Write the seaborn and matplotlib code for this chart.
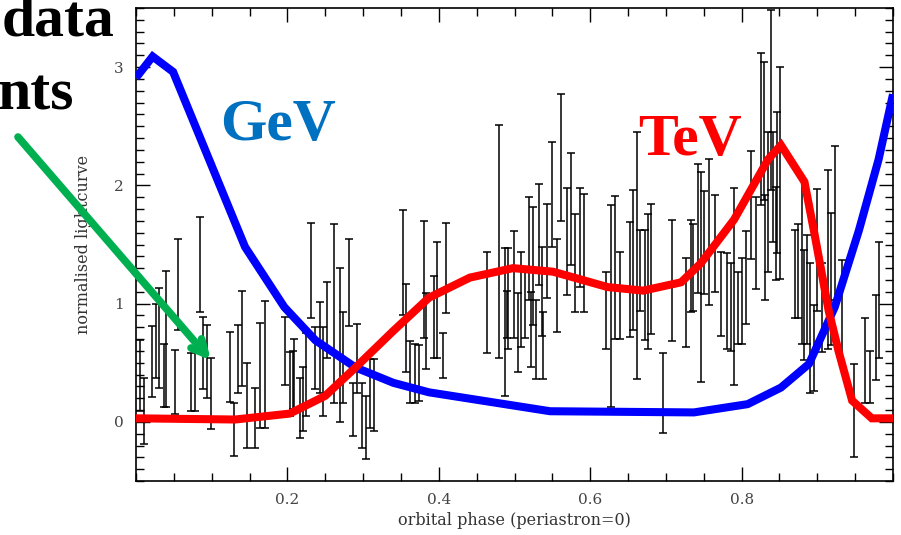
import numpy as np
import pandas as pd
import matplotlib
matplotlib.use("Agg")
import matplotlib.pyplot as plt
from matplotlib.ticker import MultipleLocator, FixedLocator
import seaborn as sns

# ---------------- data ----------------
gev_phase = [0.0, 0.022, 0.049, 0.144, 0.196, 0.237, 0.290, 0.340, 0.387, 0.547,
             0.737, 0.808, 0.852, 0.889, 0.923, 0.955, 0.981, 1.0]
gev_flux = [2.91, 3.09, 2.96, 1.48, 0.97, 0.69, 0.46, 0.33, 0.25, 0.09,
            0.08, 0.15, 0.29, 0.49, 0.97, 1.62, 2.22, 2.77]

tev_phase = [0.0, 0.131, 0.203, 0.250, 0.290, 0.340, 0.387, 0.441, 0.498, 0.551,
             0.623, 0.670, 0.720, 0.746, 0.790, 0.835, 0.852, 0.883, 0.896,
             0.915, 0.928, 0.946, 0.972, 1.0]
tev_flux = [0.03, 0.02, 0.07, 0.22, 0.46, 0.77, 1.05, 1.22, 1.30, 1.27,
            1.14, 1.11, 1.18, 1.34, 1.71, 2.22, 2.34, 2.03, 1.60,
            0.94, 0.60, 0.18, 0.03, 0.03]

# measured points: phase, lower end and upper end of each error bar
pt_phase = [0.005, 0.010, 0.021, 0.027, 0.031, 0.037, 0.039, 0.051, 0.056, 0.072,
            0.078, 0.084, 0.088, 0.094, 0.099, 0.124, 0.130, 0.135, 0.140, 0.147,
            0.157, 0.164, 0.171, 0.197, 0.204, 0.207, 0.209, 0.216, 0.220, 0.224,
            0.231, 0.237, 0.243, 0.247, 0.252, 0.262, 0.269, 0.273, 0.281, 0.286,
            0.292, 0.298, 0.304, 0.309, 0.314, 0.353, 0.357, 0.362, 0.369, 0.374,
            0.381, 0.383, 0.393, 0.398, 0.405, 0.410, 0.464, 0.480, 0.487, 0.490,
            0.492, 0.499, 0.504, 0.508, 0.514, 0.519, 0.522, 0.524, 0.528, 0.532,
            0.536, 0.538, 0.543, 0.550, 0.556, 0.561, 0.569, 0.575, 0.580, 0.587,
            0.592, 0.621, 0.627, 0.633, 0.639, 0.653, 0.657, 0.662, 0.666, 0.672,
            0.677, 0.680, 0.696, 0.708, 0.726, 0.733, 0.736, 0.742, 0.746, 0.750,
            0.757, 0.765, 0.773, 0.781, 0.786, 0.790, 0.795, 0.801, 0.806, 0.812,
            0.819, 0.825, 0.830, 0.831, 0.835, 0.839, 0.841, 0.845, 0.847, 0.851,
            0.870, 0.875, 0.880, 0.882, 0.886, 0.891, 0.896, 0.900, 0.906, 0.914,
            0.918, 0.924, 0.933, 0.948, 0.963, 0.970, 0.977, 0.982]
pt_low = [0.09, -0.19, 0.21, 0.37, 0.29, 0.13, 0.13, 0.07, 0.78, 0.09,
          0.09, 0.93, 0.28, 0.20, -0.06, 0.17, -0.29, 0.24, 0.30, -0.22,
          -0.22, -0.05, -0.05, 0.31, 0.05, 0.11, 0.09, -0.14, -0.08, 0.05,
          0.88, 0.28, 0.24, 0.05, 0.54, 0.16, 0.00, 0.16, 0.81, -0.12,
          0.24, -0.22, -0.31, -0.05, -0.08, 0.90, 0.42, 0.16, 0.16, 0.18,
          0.71, 0.45, 0.54, 0.54, 0.37, 0.92, 0.58, 0.54, 0.22, 0.71,
          0.62, 0.71, 0.42, 0.63, 0.71, 1.03, 0.46, 0.82, 0.36, 1.16,
          0.73, 0.36, 1.05, 1.48, 0.76, 1.70, 1.07, 1.33, 0.93, 1.14,
          0.93, 0.62, 0.13, 0.70, 0.70, 0.72, 0.78, 0.36, 0.94, 0.69,
          0.62, 0.74, -0.09, 0.68, 0.63, 0.93, 0.94, 1.09, 0.34, 1.08,
          0.99, 1.10, 0.73, 0.62, 0.60, 0.31, 0.66, 0.66, 0.83, 1.38,
          1.12, 1.83, 1.88, 1.03, 1.27, 1.96, 1.52, 1.20, 1.43, 1.21,
          0.88, 0.88, 0.66, 0.52, 0.66, 0.24, 0.26, 0.94, 0.59, 0.62,
          0.65, 1.03, 0.49, -0.30, 0.16, 0.16, 0.35, 0.54]
pt_high = [0.69, 0.37, 0.81, 1.00, 1.13, 0.66, 1.28, 0.61, 1.55, 0.58,
           0.68, 1.73, 0.89, 0.82, 0.54, 0.76, 0.16, 0.82, 1.11, 0.50,
           0.29, 0.84, 1.02, 0.89, 0.59, 0.60, 0.70, 0.37, 0.46, 0.75,
           1.68, 0.80, 1.01, 0.80, 1.18, 1.67, 1.30, 0.93, 1.55, 0.33,
           0.83, 0.33, 0.22, 0.53, 0.53, 1.79, 1.17, 0.68, 0.66, 0.65,
           1.70, 1.09, 1.23, 1.52, 0.75, 1.68, 1.44, 2.51, 1.47, 1.11,
           1.47, 1.61, 1.09, 1.44, 1.31, 1.90, 1.10, 1.82, 1.03, 2.01,
           1.48, 0.93, 1.84, 2.37, 1.55, 2.77, 1.98, 2.27, 1.76, 1.98,
           1.93, 1.27, 1.83, 1.91, 1.44, 1.69, 1.96, 2.45, 1.62, 1.62,
           1.76, 1.84, 0.58, 1.71, 1.39, 1.71, 1.67, 2.18, 2.11, 1.95,
           2.22, 1.92, 1.44, 1.43, 1.34, 1.98, 1.27, 1.39, 1.61, 2.29,
           1.90, 3.12, 3.04, 1.92, 2.45, 3.48, 2.45, 1.99, 2.62, 3.00,
           1.62, 1.67, 2.06, 1.45, 1.58, 1.34, 0.99, 1.97, 1.34, 2.13,
           1.77, 2.33, 1.37, 0.49, 0.88, 0.60, 1.07, 1.52]

x_ticks = [0.2, 0.4, 0.6, 0.8]
x_tick_labels = ["0.2", "0.4", "0.6", "0.8"]
y_ticks = [0, 1, 2, 3]
y_tick_labels = ["0", "1", "2", "3"]

# ---------------- figure ----------------
sns.set_style("ticks")
plt.rcParams["font.family"] = ["DejaVu Serif", "DejaVu Sans"]

W, H = 901, 535
fig = plt.figure(figsize=(W / 100, H / 100), dpi=100)
ax = fig.add_axes([136 / W, 1 - 481 / H, (893 - 136) / W, (481 - 8) / H])

pts = pd.DataFrame({"phase": pt_phase, "low": pt_low, "high": pt_high})
pts["mid"] = (pts["low"] + pts["high"]) / 2
pts["err"] = (pts["high"] - pts["low"]) / 2
ax.errorbar(pts["phase"], pts["mid"], yerr=pts["err"], fmt="none",
            ecolor="black", elinewidth=1.1, capsize=2.8, capthick=1.1, zorder=2)

gev = pd.DataFrame({"phase": gev_phase, "flux": gev_flux})
tev = pd.DataFrame({"phase": tev_phase, "flux": tev_flux})
sns.lineplot(data=gev, x="phase", y="flux", sort=False, color="#0000FF",
             linewidth=5.8, ax=ax, zorder=3)
sns.lineplot(data=tev, x="phase", y="flux", sort=False, color="#FF0000",
             linewidth=5.8, ax=ax, zorder=4)
for ln in ax.lines:
    ln.set_solid_joinstyle("miter")
    ln.set_solid_capstyle("butt")
    ln.set_clip_on(True)

ax.set_xlim(0, 1)
ax.set_ylim(-0.5, 3.5)
ax.xaxis.set_major_locator(FixedLocator(x_ticks))
ax.set_xticklabels(x_tick_labels)
ax.xaxis.set_minor_locator(MultipleLocator(0.05))
ax.yaxis.set_major_locator(FixedLocator(y_ticks))
ax.set_yticklabels(y_tick_labels)
ax.yaxis.set_minor_locator(MultipleLocator(0.1))
ax.tick_params(which="both", direction="in", top=True, right=True,
               color="black", width=1.0)
ax.tick_params(which="major", length=10, labelsize=11, labelcolor="#444444", pad=9)
ax.tick_params(which="minor", length=6)
for sp in ax.spines.values():
    sp.set_visible(True)
    sp.set_linewidth(1.2)
    sp.set_color("black")

ax.set_xlabel("orbital phase (periastron=0)", fontsize=11.5, color="#333333", labelpad=3)
ax.set_ylabel("normalised lightcurve", fontsize=11.5, color="#333333", labelpad=16)

# annotations
fig.text(220 / W, 1 - 140 / H, "GeV", color="#0070C0", fontsize=43,
         fontweight="bold", family="Liberation Serif", va="baseline", ha="left")
fig.text(638 / W, 1 - 155 / H, "TeV", color="#FF0000", fontsize=43,
         fontweight="bold", family="Liberation Serif", va="baseline", ha="left")
fig.text(2 / W, 1 - 35 / H, "data", color="black", fontsize=43,
         fontweight="bold", family="Liberation Serif", va="baseline", ha="left")
fig.text(-3 / W, 1 - 110 / H, "nts", color="black", fontsize=43,
         fontweight="bold", family="Liberation Serif", va="baseline", ha="left")

ax.annotate("", xy=(0.099, 0.52), xycoords="data",
            xytext=(18 / W, 1 - 137 / H), textcoords="figure fraction",
            arrowprops=dict(arrowstyle="->,head_length=1.0,head_width=0.5",
                            color="#00B050", lw=5.5, shrinkA=0, shrinkB=0),
            annotation_clip=False, zorder=6)

fig.savefig("out.png", dpi=100)
